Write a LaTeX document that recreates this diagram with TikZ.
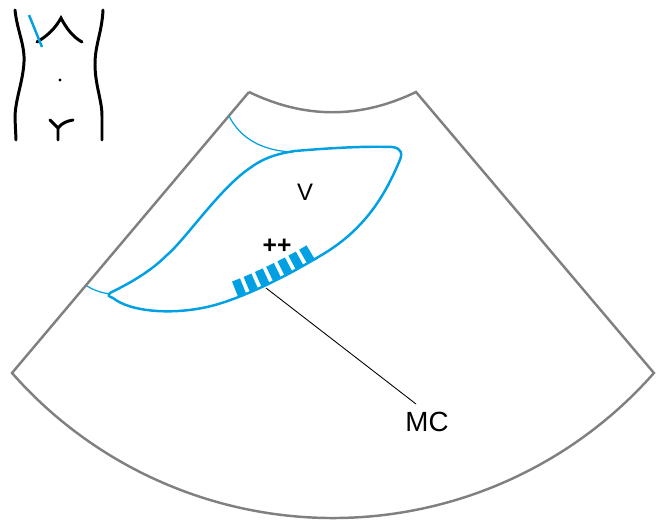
\documentclass[tikz,border=0pt]{standalone}
\usepackage{fontspec}
\setmainfont{Liberation Sans}
\usepackage{tikz}
\usetikzlibrary{positioning}
\usepackage{xcolor}
\definecolor{sonoblue}{RGB}{0, 160, 227}
\definecolor{framegray}{RGB}{128, 128, 128}

\begin{document}
\begin{tikzpicture}[x=0.02cm, y=-0.02cm,
    every node/.style={font=\fontsize{13.6}{16}\selectfont},
    frame/.style={framegray, line width=1.4pt},
    wall/.style={sonoblue, line width=1.4pt},
    thinwall/.style={sonoblue, line width=0.7pt},
    body/.style={black, line width=1.7pt, line cap=round},
    leader/.style={black, line width=0.5pt}]
  \useasboundingbox (0,0) rectangle (660,524);

  % body pictogram with probe position
  \draw[body] (15,10) .. controls (17,30) and (25,45) .. (24,62)
              .. controls (23,82) and (15,100) .. (15,118) -- (16,140);
  \draw[body] (103,10) .. controls (102,32) and (95,45) .. (95,64)
              .. controls (95,85) and (102,100) .. (102,116) -- (102,140);
  \draw[body] (37,42) .. controls (47,36) and (55,29) .. (61,18)
              .. controls (66,28) and (73,37) .. (82,42);
  \fill (60,80) circle (1.6);
  \draw[body] (50,120) -- (58,128) -- (58,140);
  \draw[body] (58,128) .. controls (62,123) and (67,121) .. (73,120);
  \draw[sonoblue, line width=1.4pt] (29,15) -- (42,47);

  % sector of the scan
  \coordinate (tl) at (249,92);
  \coordinate (tr) at (416,92);
  \coordinate (bl) at (12,373);
  \coordinate (br) at (654,373);
  \draw[frame] (tl) -- (bl) arc[start angle=221.37, end angle=318.63, radius=8.556cm]
    -- (tr) .. controls (360,119) and (305,119) .. (tl);

  % ventricle outline
  \draw[wall] (110,293) .. controls (130,283) and (150,272) .. (167,255)
    .. controls (185,240) and (220,188) .. (250,168)
    .. controls (262,159) and (275,154) .. (295,151)
    .. controls (330,148) and (365,146) .. (392,147)
    .. controls (402,148) and (403,154) .. (399,162)
    .. controls (385,195) and (365,230) .. (320,256)
    .. controls (290,274) and (250,295) .. (215,305)
    .. controls (175,316) and (130,312) .. (113,298)
    .. controls (108,296) .. cycle;
  \draw[thinwall] (87,286) .. controls (95,291) and (103,293) .. (110,294);
  \draw[thinwall] (229,116) .. controls (240,138) and (262,151) .. (293,152);

  % hatched segment on the wall
  \draw[sonoblue, line width=0.32cm, dash pattern=on 0.172cm off 0.08cm]
    (235,289) .. controls (258,280) and (288,266) .. (311,252);

  \node (v) at (305,192) {V};
  \node[font=\fontsize{14}{16}\selectfont\bfseries] (pp) at (277,246) {++};
  \node[font=\fontsize{15.8}{18}\selectfont] (mc) at (427,422) {MC};
  \coordinate (wallpt) at (266,288);
  \coordinate (mctip) at (416,404);
  \draw[leader] (wallpt) -- (mctip);
\end{tikzpicture}
\end{document}
